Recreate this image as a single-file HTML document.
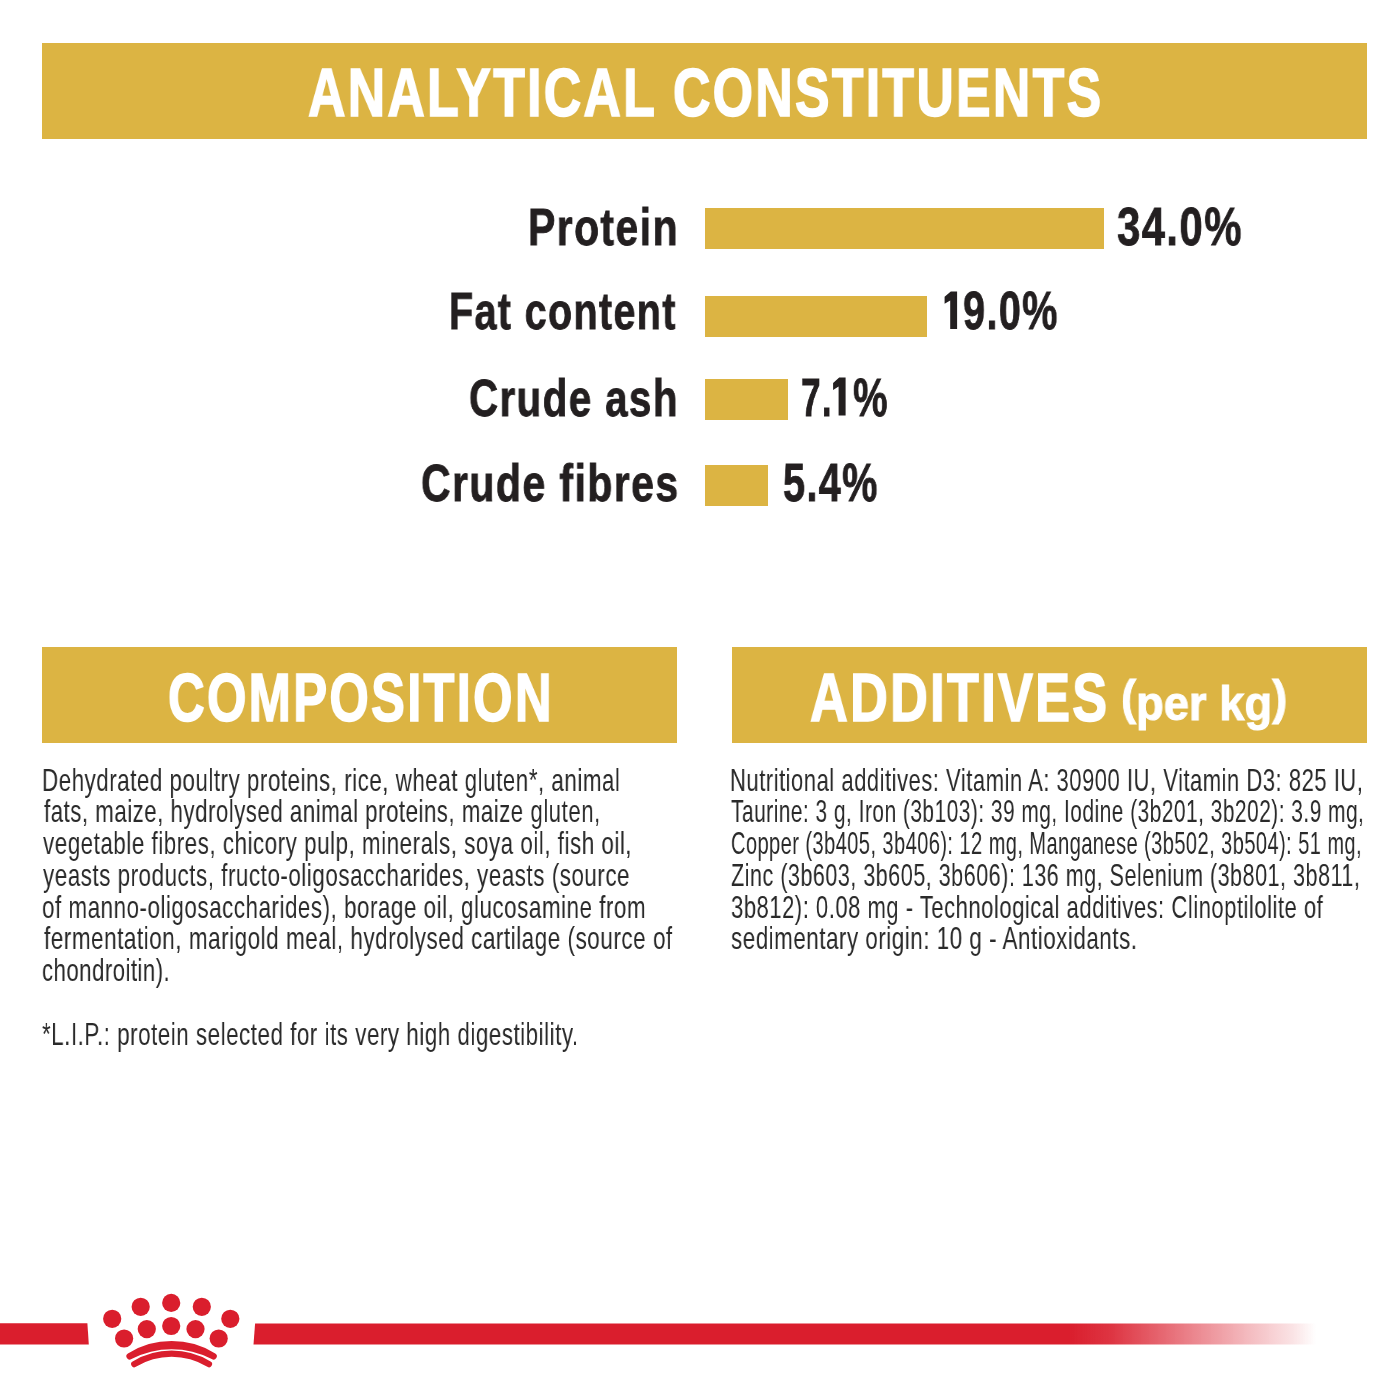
<!DOCTYPE html>
<html><head><meta charset="utf-8"><style>
html,body{margin:0;padding:0;background:#fff;}
body{width:1400px;height:1400px;position:relative;overflow:hidden;font-family:"Liberation Sans",sans-serif;}
.bn{position:absolute;background:#dcb443;}
.t{position:absolute;white-space:nowrap;line-height:1;transform-origin:0 0;will-change:transform;}
</style></head><body>
<div class="bn" style="left:42px;top:43px;width:1325px;height:96px"></div>
<div class="bn" style="left:42px;top:647px;width:635px;height:96px"></div>
<div class="bn" style="left:732px;top:647px;width:635px;height:96px"></div>
<div class="bn" style="left:705px;top:208px;width:399px;height:41px"></div>
<div class="bn" style="left:705px;top:296px;width:222px;height:41px"></div>
<div class="bn" style="left:705px;top:379px;width:83px;height:41px"></div>
<div class="bn" style="left:705px;top:465px;width:63px;height:41px"></div>
<div class="t" style="left:307.50px;top:58.73px;font-size:67.88px;font-weight:bold;color:#fff;transform:scaleX(0.7635);-webkit-text-stroke:1.60px #fff;letter-spacing:3.00px;">ANALYTICAL CONSTITUENTS</div>
<div class="t" style="left:168.40px;top:663.87px;font-size:68.90px;font-weight:bold;color:#fff;transform:scaleX(0.7376);-webkit-text-stroke:1.60px #fff;letter-spacing:3.00px;">COMPOSITION</div>
<div class="t" style="left:809.70px;top:663.36px;font-size:68.32px;font-weight:bold;color:#fff;transform:scaleX(0.7651);-webkit-text-stroke:1.60px #fff;letter-spacing:3.00px;">ADDITIVES</div>
<div class="t" style="left:1121.00px;top:679.41px;font-size:49.00px;font-weight:bold;color:#fff;transform:scaleX(0.9245);-webkit-text-stroke:1.00px #fff;"><span style="position:relative;top:-6px">(</span>per kg<span style="position:relative;top:-6px">)</span></div>
<div class="t" style="left:528.00px;top:201.12px;font-size:52.18px;font-weight:bold;color:#231f20;transform:scaleX(0.7848);-webkit-text-stroke:0.80px #231f20;letter-spacing:1.80px;">Protein</div>
<div class="t" style="left:449.00px;top:284.52px;font-size:52.18px;font-weight:bold;color:#231f20;transform:scaleX(0.7569);-webkit-text-stroke:0.80px #231f20;letter-spacing:1.80px;">Fat content</div>
<div class="t" style="left:469.00px;top:372.02px;font-size:52.18px;font-weight:bold;color:#231f20;transform:scaleX(0.7734);-webkit-text-stroke:0.80px #231f20;letter-spacing:1.80px;">Crude ash</div>
<div class="t" style="left:421.00px;top:456.62px;font-size:52.18px;font-weight:bold;color:#231f20;transform:scaleX(0.7863);-webkit-text-stroke:0.80px #231f20;letter-spacing:1.80px;">Crude fibres</div>
<div class="t" style="left:1117.00px;top:199.64px;font-size:53.93px;font-weight:bold;color:#231f20;transform:scaleX(0.7772);-webkit-text-stroke:0.80px #231f20;letter-spacing:1.80px;">34.0%</div>
<div class="t" style="left:963.00px;top:284.04px;font-size:53.93px;font-weight:bold;color:#231f20;transform:scaleX(0.7365);-webkit-text-stroke:0.80px #231f20;letter-spacing:1.80px;">9.0%</div>
<div class="t" style="left:801.40px;top:370.54px;font-size:53.93px;font-weight:bold;color:#231f20;transform:scaleX(0.6558);-webkit-text-stroke:0.80px #231f20;letter-spacing:1.80px;">7.</div>
<div class="t" style="left:852.70px;top:370.54px;font-size:53.93px;font-weight:bold;color:#231f20;transform:scaleX(0.7189);-webkit-text-stroke:0.80px #231f20;letter-spacing:1.80px;">%</div>
<svg style="position:absolute;left:0;top:0" width="1400" height="1400"><polygon points="950.20,329.00 950.20,300.40 944.60,303.70 944.60,296.80 950.80,291.40 957.10,291.40 957.10,329.00" fill="#231f20"/><polygon points="838.60,415.60 838.60,386.60 833.10,389.90 833.10,383.00 839.20,377.60 845.60,377.60 845.60,415.60" fill="#231f20"/></svg>
<div class="t" style="left:782.50px;top:456.14px;font-size:53.93px;font-weight:bold;color:#231f20;transform:scaleX(0.7363);-webkit-text-stroke:0.80px #231f20;letter-spacing:1.80px;">5.4%</div>
<div class="t" style="left:42.00px;top:764.76px;font-size:30.52px;font-weight:normal;color:#2a2a2a;transform:scaleX(0.7331);letter-spacing:0.70px;">Dehydrated poultry proteins, rice, wheat gluten*, animal</div>
<div class="t" style="left:43.60px;top:796.48px;font-size:30.52px;font-weight:normal;color:#2a2a2a;transform:scaleX(0.7290);letter-spacing:0.70px;">fats, maize, hydrolysed animal proteins, maize gluten,</div>
<div class="t" style="left:43.30px;top:828.20px;font-size:30.52px;font-weight:normal;color:#2a2a2a;transform:scaleX(0.7340);letter-spacing:0.70px;">vegetable fibres, chicory pulp, minerals, soya oil, fish oil,</div>
<div class="t" style="left:43.30px;top:859.92px;font-size:30.52px;font-weight:normal;color:#2a2a2a;transform:scaleX(0.7347);letter-spacing:0.70px;">yeasts products, fructo-oligosaccharides, yeasts (source</div>
<div class="t" style="left:42.30px;top:891.64px;font-size:30.52px;font-weight:normal;color:#2a2a2a;transform:scaleX(0.7341);letter-spacing:0.70px;">of manno-oligosaccharides), borage oil, glucosamine from</div>
<div class="t" style="left:43.60px;top:923.36px;font-size:30.52px;font-weight:normal;color:#2a2a2a;transform:scaleX(0.7373);letter-spacing:0.70px;">fermentation, marigold meal, hydrolysed cartilage (source of</div>
<div class="t" style="left:42.30px;top:955.08px;font-size:30.52px;font-weight:normal;color:#2a2a2a;transform:scaleX(0.7245);letter-spacing:0.70px;">chondroitin).</div>
<div class="t" style="left:41.80px;top:1018.52px;font-size:30.52px;font-weight:normal;color:#2a2a2a;transform:scaleX(0.7336);letter-spacing:0.70px;">*L.I.P.: protein selected for its very high digestibility.</div>
<div class="t" style="left:730.00px;top:764.76px;font-size:30.52px;font-weight:normal;color:#2a2a2a;transform:scaleX(0.7218);letter-spacing:0.70px;">Nutritional additives: Vitamin A: 30900 IU, Vitamin D3: 825 IU,</div>
<div class="t" style="left:731.00px;top:796.48px;font-size:30.52px;font-weight:normal;color:#2a2a2a;transform:scaleX(0.6853);letter-spacing:0.70px;">Taurine: 3 g, Iron (3b103): 39 mg, Iodine (3b201, 3b202): 3.9 mg,</div>
<div class="t" style="left:731.00px;top:828.20px;font-size:30.52px;font-weight:normal;color:#2a2a2a;transform:scaleX(0.6554);letter-spacing:0.70px;">Copper (3b405, 3b406): 12 mg, Manganese (3b502, 3b504): 51 mg,</div>
<div class="t" style="left:731.00px;top:859.92px;font-size:30.52px;font-weight:normal;color:#2a2a2a;transform:scaleX(0.7066);letter-spacing:0.70px;">Zinc (3b603, 3b605, 3b606): 136 mg, Selenium (3b801, 3b811,</div>
<div class="t" style="left:731.00px;top:891.64px;font-size:30.52px;font-weight:normal;color:#2a2a2a;transform:scaleX(0.7223);letter-spacing:0.70px;">3b812): 0.08 mg - Technological additives: Clinoptilolite of</div>
<div class="t" style="left:731.00px;top:923.36px;font-size:30.52px;font-weight:normal;color:#2a2a2a;transform:scaleX(0.7339);letter-spacing:0.70px;">sedimentary origin: 10 g - Antioxidants.</div>
<svg style="position:absolute;left:0;top:0" width="1400" height="1400" viewBox="0 0 1400 1400"><defs><linearGradient id="rg" gradientUnits="userSpaceOnUse" x1="253.5" y1="0" x2="1316" y2="0"><stop offset="0" stop-color="#da1e2d"/><stop offset="0.768" stop-color="#da1e2d"/><stop offset="0.807" stop-color="#da1e2d" stop-opacity="0.9"/><stop offset="0.85" stop-color="#da1e2d" stop-opacity="0.7"/><stop offset="0.893" stop-color="#da1e2d" stop-opacity="0.5"/><stop offset="0.937" stop-color="#da1e2d" stop-opacity="0.3"/><stop offset="0.979" stop-color="#da1e2d" stop-opacity="0.12"/><stop offset="1" stop-color="#da1e2d" stop-opacity="0"/></linearGradient></defs><polygon points="0,1323.3 87.4,1323.3 88.8,1344.6 0,1344.6" fill="#da1e2d"/><polygon points="255.1,1323.4 1316,1323.4 1316,1344.6 253.5,1344.6" fill="url(#rg)"/></svg>
<svg style="position:absolute;left:0;top:0" width="1400" height="1400" viewBox="0 0 1400 1400"><circle cx="112.2" cy="1318.8" r="9.1" fill="#da1e2d"/><circle cx="140.7" cy="1306.8" r="9.1" fill="#da1e2d"/><circle cx="171.2" cy="1302.9" r="9.1" fill="#da1e2d"/><circle cx="201.8" cy="1306.8" r="9.1" fill="#da1e2d"/><circle cx="230.3" cy="1318.8" r="9.1" fill="#da1e2d"/><circle cx="124.1" cy="1338.5" r="9.1" fill="#da1e2d"/><circle cx="146.8" cy="1329.1" r="9.1" fill="#da1e2d"/><circle cx="171.2" cy="1326.0" r="9.1" fill="#da1e2d"/><circle cx="195.5" cy="1329.1" r="9.1" fill="#da1e2d"/><circle cx="218.7" cy="1338.5" r="9.1" fill="#da1e2d"/><path d="M127.94 1353.54 A81.70 81.70 0 0 1 215.26 1353.54 A3.30 3.30 0 0 1 211.73 1359.12 A86.90 86.90 0 0 0 131.47 1359.12 A3.30 3.30 0 0 1 127.94 1353.54 Z" fill="#da1e2d"/><path d="M134.24 1364.20 A71.70 71.70 0 0 1 208.96 1364.20" stroke="#da1e2d" stroke-width="6.2" fill="none" stroke-linecap="round"/></svg>
</body></html>
